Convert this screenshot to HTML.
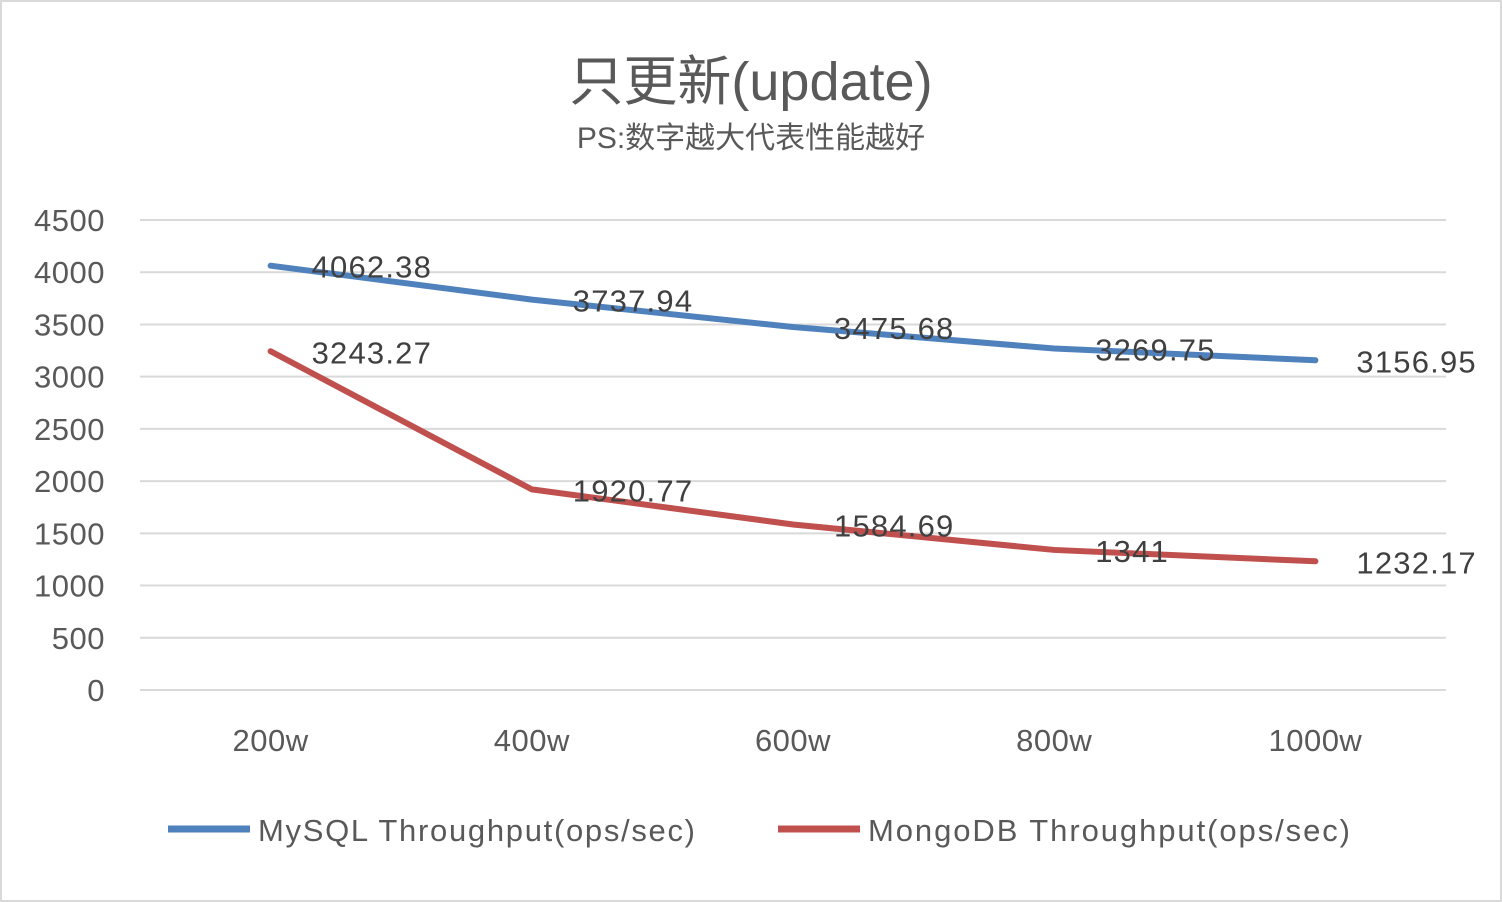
<!DOCTYPE html>
<html><head><meta charset="utf-8">
<style>
html,body{margin:0;padding:0;background:#fff;}
svg{display:block;font-family:"Liberation Sans","Noto Sans CJK SC",sans-serif;}
</style></head>
<body>
<svg id="chart" width="1502" height="902" viewBox="0 0 1502 902">
<rect x="1" y="1" width="1500" height="900" fill="#fff" stroke="#d9d9d9" stroke-width="2"/>
<text x="751" y="100" text-anchor="middle" font-size="54" fill="#595959">只更新(update)</text>
<text x="751" y="148" text-anchor="middle" font-size="30" fill="#595959">PS:数字越大代表性能越好</text>
<g id="grid"></g>
<g id="yticks"></g>
<g id="xticks"></g>
<g id="series"></g>
<g id="labels"></g>
<g>
<line x1="168" y1="829" x2="250" y2="829" stroke="#4f81bd" stroke-width="7"/>
<text x="258" y="841" font-size="31" fill="#595959" textLength="437" lengthAdjust="spacing">MySQL Throughput(ops/sec)</text>
<line x1="778" y1="829" x2="860" y2="829" stroke="#c0504d" stroke-width="7"/>
<text x="868" y="841" font-size="31" fill="#595959" textLength="482" lengthAdjust="spacing">MongoDB Throughput(ops/sec)</text>
</g>
</svg>
<script>
const categories = ["200w","400w","600w","800w","1000w"];
const mysqlValues = [4062.38, 3737.94, 3475.68, 3269.75, 3156.95];
const mongoValues = [3243.27, 1920.77, 1584.69, 1341, 1232.17];
const yTicks = [0,500,1000,1500,2000,2500,3000,3500,4000,4500];

const NS="http://www.w3.org/2000/svg";
const left=140,right=1446,y0=690,yTop=220,yMax=4500;
const yScale=v=>y0-(v/yMax)*(y0-yTop);
const band=(right-left)/categories.length;
const xScale=i=>left+band*(i+0.5);
function mk(tag,attrs,parent){const e=document.createElementNS(NS,tag);for(const k in attrs)e.setAttribute(k,attrs[k]);document.getElementById(parent).appendChild(e);return e;}

yTicks.forEach(t=>{
  const l=mk("line",{x1:left,x2:right,y1:yScale(t),y2:yScale(t),stroke:"#d9d9d9","stroke-width":2},"grid");
  
  
  const tx=mk("text",{x:105,y:yScale(t)+11,"text-anchor":"end","font-size":31,fill:"#595959","letter-spacing":"0.5"},"yticks");
  tx.textContent=t;
  
  
});
categories.forEach((c,i)=>{
  const tx=mk("text",{x:xScale(i),y:751,"text-anchor":"middle","font-size":31,fill:"#595959","letter-spacing":"0.5"},"xticks");
  tx.textContent=c;
  
  
});
function drawSeries(vals,color,name){
  const pts=vals.map((v,i)=>xScale(i)+","+yScale(v)).join(" ");
  const p=mk("polyline",{points:pts,fill:"none",stroke:color,"stroke-width":6,"stroke-linejoin":"round","stroke-linecap":"round"},"series");
  
  
  vals.forEach((v,i)=>{
    const tx=mk("text",{x:xScale(i)+41,y:yScale(v)+12,"font-size":31,fill:"#404040","letter-spacing":"1.2"},"labels");
    tx.textContent=v;
    
    
  });
}
drawSeries(mysqlValues,"#4f81bd","mysql");
drawSeries(mongoValues,"#c0504d","mongodb");
</script>
</body></html>
